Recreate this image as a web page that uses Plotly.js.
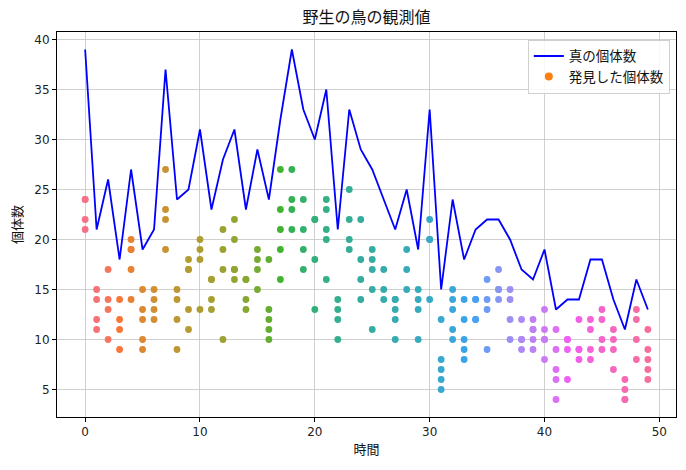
<!DOCTYPE html>
<html>
<head>
<meta charset="utf-8">
<script src="https://cdn.plot.ly/plotly-3.0.1.min.js"></script>
<style>
  html, body { margin: 0; padding: 0; background: #fff; }
  #chart { width: 686px; height: 470px; }
</style>
</head>
<body>
<div id="chart"></div>
<script>
// time steps
const times = [
  0, 1, 2, 3, 4, 5, 6, 7, 8, 9,
  10, 11, 12, 13, 14, 15, 16, 17, 18, 19,
  20, 21, 22, 23, 24, 25, 26, 27, 28, 29,
  30, 31, 32, 33, 34, 35, 36, 37, 38, 39,
  40, 41, 42, 43, 44, 45, 46, 47, 48, 49
];

// true population per time step
const truePop = [
  39, 21, 26, 18, 27, 19, 21, 37, 24, 25,
  31, 23, 28, 31, 23, 29, 24, 32, 39, 33,
  30, 35, 21, 33, 29, 27, 24, 21, 25, 19,
  33, 15, 24, 18, 21, 22, 22, 20, 17, 16,
  19, 13, 14, 14, 18, 18, 14, 11, 16, 13
];

// detected counts, one list per time step
const detected = [
  [24, 24, 22, 21], [15, 14, 12, 11], [17, 14, 13, 10], [14, 12, 11, 9], [20, 19, 19, 17, 14],
  [15, 13, 12, 10, 9], [15, 14, 13, 12], [27, 23, 22, 19], [15, 14, 12, 9], [18, 17, 17, 13, 11],
  [20, 19, 18, 13], [16, 16, 14, 13], [21, 19, 17, 10], [22, 20, 17, 17, 16], [16, 16, 14, 13],
  [19, 18, 17, 15], [18, 13, 12, 11, 10], [27, 23, 21, 19, 16], [27, 24, 23, 21], [24, 21, 19, 17],
  [22, 22, 18, 13], [24, 23, 21, 20, 16], [14, 13, 12, 10], [25, 22, 20, 19], [22, 18, 16, 14],
  [19, 18, 17, 15, 11], [17, 15, 14], [14, 14, 13, 12, 10], [19, 17, 15], [15, 14, 13, 10],
  [22, 20, 20, 14], [12, 8, 7, 6, 5], [15, 14, 13, 11, 10], [14, 12, 10, 9, 8], [14, 14, 12, 12],
  [16, 14, 13, 9], [17, 15, 15, 14], [15, 14, 12, 10], [12, 10, 10, 9], [12, 11, 11, 10, 9],
  [13, 11, 10, 10, 8], [11, 9, 7, 6, 4], [10, 10, 9, 6], [12, 9, 9, 8], [12, 11, 9, 8],
  [13, 12, 10, 9], [11, 10, 9, 7], [6, 5, 4, 4], [13, 12, 10, 8], [11, 9, 8, 7, 6]
];

// husl -> rgb, same maths as seaborn's bundled husl module
const M = [
  [3.2406, -1.5372, -0.4986],
  [-0.9689, 1.8758, 0.0415],
  [0.0557, -0.2040, 1.0570]
];
const REF_U = 0.19784, REF_V = 0.46834, LAB_E = 0.008856, LAB_K = 903.3;

function maxChroma(L, H) {
  const hrad = H / 180 * Math.PI;
  const sinH = Math.sin(hrad);
  const cosH = Math.cos(hrad);
  const sub1 = Math.pow(L + 16, 3) / 1560896;
  const sub2 = sub1 > LAB_E ? sub1 : L / LAB_K;
  let result = Infinity;
  for (const [m1, m2, m3] of M) {
    const top = (0.99915 * m1 + 1.05122 * m2 + 1.14460 * m3) * sub2;
    const rbottom = 0.86330 * m3 - 0.17266 * m2;
    const lbottom = 0.12949 * m3 - 0.38848 * m1;
    const bottom = (rbottom * sinH + lbottom * cosH) * sub2;
    for (const t of [0, 1]) {
      const C = L * (top - 1.05122 * t) / (bottom + 0.17266 * sinH * t);
      if (C > 0 && C < result) result = C;
    }
  }
  return result;
}

function fromLinear(c) {
  return c <= 0.0031308 ? 12.92 * c : 1.055 * Math.pow(c, 1 / 2.4) - 0.055;
}

function huslToRgb(H, S, L) {
  const C = maxChroma(L, H) / 100 * S;
  const hrad = H / 180 * Math.PI;
  const U = Math.cos(hrad) * C;
  const V = Math.sin(hrad) * C;
  const t = (L + 16) / 116;
  const Y = Math.pow(t, 3) > LAB_E ? Math.pow(t, 3) : (116 * t - 16) / LAB_K;
  const varU = U / (13 * L) + REF_U;
  const varV = V / (13 * L) + REF_V;
  const X = -(9 * Y * varU) / ((varU - 4) * varV - varU * varV);
  const Z = (9 * Y - 15 * varV * Y - varV * X) / (3 * varV);
  const rgb = M.map(r => fromLinear(r[0] * X + r[1] * Y + r[2] * Z));
  return 'rgb(' + rgb.map(c => Math.round(255 * Math.min(1, Math.max(0, c)))).join(',') + ')';
}

function huslPalette(n) {
  const out = [];
  for (let i = 0; i < n; i++) {
    const h = ((i / n + 0.01) % 1) * 359;
    out.push(huslToRgb(h, 0.9 * 99, 0.65 * 99));
  }
  return out;
}

const palette = huslPalette(times.length);

const xs = [];
const ys = [];
const colors = [];
detected.forEach((counts, i) => {
  counts.forEach(c => {
    xs.push(times[i]);
    ys.push(c);
    colors.push(palette[i]);
  });
});

const FONT = 'DejaVu Sans, Noto Sans CJK JP, sans-serif';

const traces = [{
  type: 'scatter',
  mode: 'lines',
  x: times,
  y: truePop,
  name: '真の個体数',
  line: {color: '#0000ff', width: 1.8},
}, {
  type: 'scatter',
  mode: 'markers',
  x: xs,
  y: ys,
  name: '発見した個体数',
  showlegend: false,
  marker: {color: colors, size: 6.8, line: {width: 0}},
}, {
  // legend entry only
  type: 'scatter',
  mode: 'markers',
  x: [null],
  y: [null],
  name: '発見した個体数',
  marker: {color: '#ff7f0e', size: 8},
}];

const axisCommon = {
  showgrid: true,
  gridcolor: '#c4c4c4',
  gridwidth: 0.8,
  zeroline: false,
  showline: true,
  mirror: true,
  linecolor: '#000',
  linewidth: 1,
  ticks: 'outside',
  ticklen: 4,
  tickwidth: 1,
  tickcolor: '#000',
  tickfont: {family: FONT, size: 12, color: '#222'},
};

const layout = {
  width: 686,
  height: 470,
  margin: {l: 57, r: 10, t: 32, b: 53},
  paper_bgcolor: '#fff',
  plot_bgcolor: '#fff',
  font: {family: FONT, color: '#222'},
  title: {
    text: '野生の鳥の観測値',
    font: {family: FONT, size: 16, color: '#111'},
    x: 0.5 * (57 + 676) / 686,
    xanchor: 'center',
    yref: 'container',
    y: 1 - 17 / 470,
    yanchor: 'middle',
  },
  xaxis: Object.assign({}, axisCommon, {
    range: [-2.45, 51.45],
    dtick: 10,
    tick0: 0,
    title: {text: '時間', font: {family: FONT, size: 13, color: '#111'}, standoff: 6},
  }),
  yaxis: Object.assign({}, axisCommon, {
    range: [2.25, 40.75],
    dtick: 5,
    tick0: 0,
    title: {text: '個体数', font: {family: FONT, size: 13, color: '#111'}, standoff: 8},
  }),
  showlegend: true,
  legend: {
    x: 0.99,
    xanchor: 'right',
    y: 0.98,
    yanchor: 'top',
    bgcolor: 'rgba(255,255,255,0.85)',
    bordercolor: '#d0d0d0',
    borderwidth: 1,
    font: {family: FONT, size: 13.5, color: '#111'},
    tracegroupgap: 2,
  },
  hovermode: false,
};

Plotly.newPlot('chart', traces, layout, {displayModeBar: false, staticPlot: true});
</script>
</body>
</html>
